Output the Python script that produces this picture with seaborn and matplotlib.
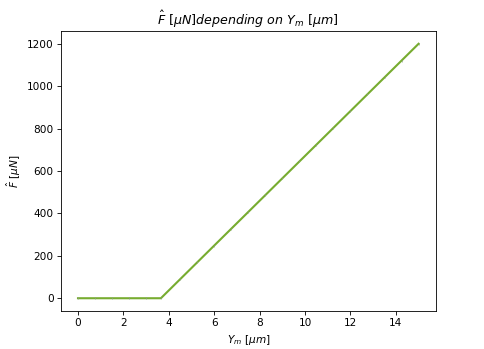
import matplotlib
matplotlib.use("Agg")
import matplotlib.pyplot as plt
import seaborn as sns
import pandas as pd

y_m = [0.0, 0.75, 1.5, 2.25, 3.0, 3.65, 4.5, 5.25, 6.0, 6.75, 7.5, 8.25, 9.0,
       9.75, 10.5, 11.25, 12.0, 12.75, 13.5, 14.25, 15.0]
f_hat = [0, 0, 0, 0, 0, 0, 89.9, 169.2, 248.5, 327.8, 407.0, 486.3, 565.6,
         644.9, 724.2, 803.5, 882.8, 962.1, 1041.4, 1120.7, 1200.0]

df = pd.DataFrame({"Y_m": y_m, "F": f_hat})

DPI = 75.6
fig, ax = plt.subplots(figsize=(484 / DPI, 349 / DPI), dpi=DPI)
fig.subplots_adjust(left=0.126, right=0.9, bottom=0.109, top=0.911)
sns.lineplot(data=df, x="Y_m", y="F", ax=ax, color="#77ac30", linewidth=2.0,
             marker="|", markersize=2.5, markeredgecolor="#8a9a8a", markeredgewidth=0.6)
ax.set_xticks([0, 2, 4, 6, 8, 10, 12, 14])
ax.set_yticks([0, 200, 400, 600, 800, 1000, 1200])
ax.set_title(r"$\hat{F}\ [\mu N] depending\ on\ Y_m\ [\mu m]$")
ax.set_xlabel(r"$Y_m\ [\mu m]$")
ax.set_ylabel(r"$\hat{F}\ [\mu N]$")
fig.savefig("out.png", dpi=DPI)
